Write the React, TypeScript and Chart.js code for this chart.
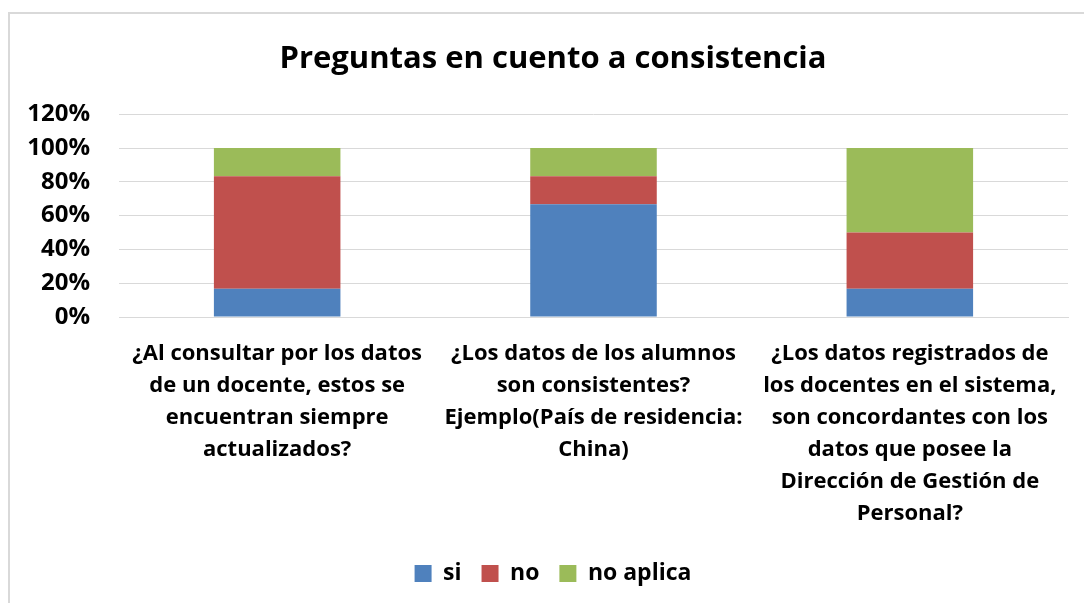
import React, { useEffect, useRef } from "react";
import { Chart, registerables } from "chart.js";

Chart.register(...registerables);

const categories: string[][] = [
  ["¿Al consultar por los datos", "de un docente, estos se", "encuentran siempre", "actualizados?"],
  ["¿Los datos de los alumnos", "son consistentes?", "Ejemplo(País de residencia:", "China)"],
  ["¿Los datos registrados de", "los docentes en el sistema,", "son concordantes con los", "datos que posee la", "Dirección de Gestión de", "Personal?"],
];
const siValues = [0.1667, 0.6667, 0.1667];
const noValues = [0.6667, 0.1667, 0.3333];
const noAplicaValues = [0.1667, 0.1667, 0.5];
const seriesNames = ["si", "no", "no aplica"];
const seriesColors = ["#4F81BD", "#C0504D", "#9BBB59"];
const title = "Preguntas en cuento a consistencia";

const FONT = "'Open Sans', Lato, sans-serif";

export default function App() {
  const ref = useRef<HTMLCanvasElement | null>(null);
  useEffect(() => {
    document.body.style.margin = "0";
    if (!ref.current) return;
    const chart = new Chart(ref.current, {
      type: "bar",
      data: {
        labels: categories,
        datasets: [siValues, noValues, noAplicaValues].map((d, i) => ({
          label: seriesNames[i],
          data: d,
          backgroundColor: seriesColors[i],
          borderWidth: 0,
          barPercentage: 0.4,
          categoryPercentage: 1,
        })),
      },
      options: {
        animation: false,
        responsive: false,
        maintainAspectRatio: false,
        layout: { padding: { left: 0, right: 0, top: 0, bottom: 8 } },
        plugins: {
          title: {
            display: true,
            text: title,
            color: "#000",
            font: { family: FONT, size: 31, weight: "bold", lineHeight: 1.2 },
            padding: { top: 28, bottom: 36 },
          },
          legend: {
            position: "bottom",
            labels: {
              color: "#000",
              font: { family: FONT, size: 23, weight: "bold" },
              boxWidth: 17,
              boxHeight: 17,
              padding: 20,
            },
          },
          tooltip: { enabled: false },
        },
        scales: {
          x: {
            stacked: true,
            grid: { display: false, drawTicks: false },
            border: { display: true, color: "#d9d9d9", width: 1 },
            ticks: {
              color: "#000",
              font: { family: FONT, size: 22, weight: "bold", lineHeight: 1.45 },
              padding: 21,
              maxRotation: 0,
              autoSkip: false,
            },
            afterFit: (axis: any) => {
              axis.height = 225;
            },
          },
          y: {
            stacked: true,
            min: 0,
            max: 1.2,
            grid: { color: "#d9d9d9", lineWidth: 1, drawTicks: false },
            border: { display: false },
            ticks: {
              stepSize: 0.2,
              color: "#000",
              padding: 29,
              font: { family: FONT, size: 24, weight: "bold" },
              callback: (v: any) => Math.round(Number(v) * 100) + "%",
            },
            afterFit: (axis: any) => {
              axis.width = 110;
            },
          },
          yRight: {
            position: "right",
            display: true,
            grid: { display: false, drawTicks: false },
            border: { display: false },
            ticks: { display: false },
            afterFit: (axis: any) => {
              axis.width = 29;
            },
          },
        },
      },
    });
    return () => chart.destroy();
  }, []);
  return (
    <div style={{ position: "relative", width: 1084, height: 603, overflow: "hidden", background: "#fff" }}>
      <div
        style={{
          position: "absolute",
          left: 8,
          top: 12,
          width: 1100,
          height: 600,
          borderLeft: "2px solid #d9d9d9",
          borderTop: "2px solid #d9d9d9",
        }}
      />
      <div style={{ position: "absolute", left: 9, top: 13, width: 1088, height: 590 }}>
        <canvas ref={ref} width={1088} height={590} style={{ width: 1088, height: 590 }} />
      </div>
    </div>
  );
}
